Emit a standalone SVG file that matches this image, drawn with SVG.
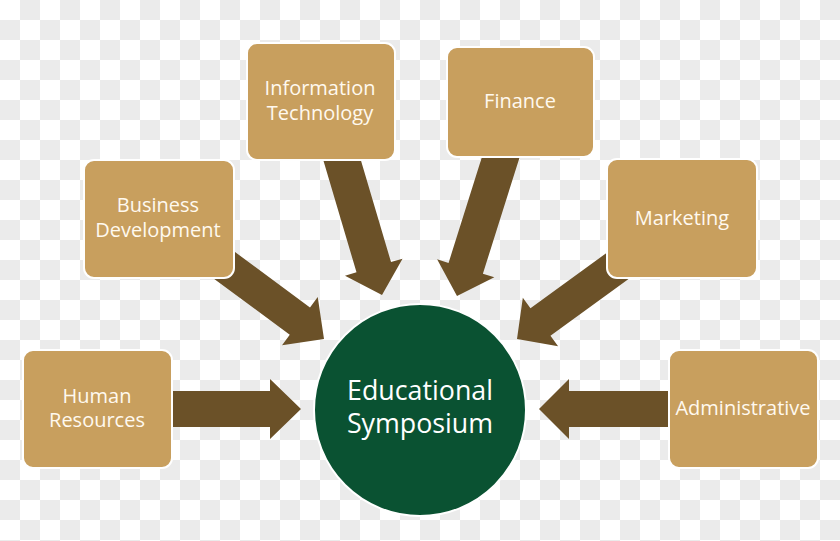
<svg xmlns="http://www.w3.org/2000/svg" width="840" height="541" viewBox="0 0 840 541">
<style>
.box{fill:#C89F5E;stroke:#FFFFFF;stroke-width:2}
.lbl{font-family:"Open Sans","Noto Sans",sans-serif;font-size:20px;fill:#FFF9EF;text-anchor:middle}
.big{font-family:"Open Sans","Noto Sans",sans-serif;font-size:26.8px;fill:#FFFFFF;text-anchor:middle}
.arr{fill:#6B5128}
</style>
<defs>
<pattern id="chk" x="0" y="0" width="40" height="40" patternUnits="userSpaceOnUse">
<rect width="40" height="40" fill="#FFFFFF"/>
<rect x="20" y="0" width="20" height="20" fill="#EBEBEB"/>
<rect x="0" y="20" width="20" height="20" fill="#EBEBEB"/>
</pattern>
</defs>
<rect width="840" height="541" fill="url(#chk)"/>
<g id="connectors">
<polygon class="arr" transform="translate(301,409)" points="0,0 -31,-30 -31,-18 -136,-18 -136,18 -31,18 -31,30"/>
<polygon class="arr" transform="translate(539,409) rotate(180)" points="0,0 -30,-30 -30,-18 -141,-18 -141,18 -30,18 -30,30"/>
<polygon class="arr" transform="translate(324,339) rotate(36.5)" points="0,0 -30,-30 -30,-17 -140,-17 -140,17 -30,17 -30,30"/>
<polygon class="arr" transform="translate(382,295) rotate(73.5)" points="0,0 -29,-30 -29,-18 -150,-18 -150,18 -29,18 -29,30"/>
<polygon class="arr" transform="translate(457,296) rotate(107.5)" points="0,0 -29,-30 -29,-18 -152,-18 -152,18 -29,18 -29,30"/>
<polygon class="arr" transform="translate(517,339) rotate(144)" points="0,0 -29,-30 -29,-17 -140,-17 -140,17 -29,17 -29,30"/>
</g>
<g id="hr">
<rect class="box" x="23" y="350" width="149" height="118" rx="10"/>
<text class="lbl" x="97" y="403">Human</text>
<text class="lbl" x="97" y="427">Resources</text>
</g>
<g id="bd">
<rect class="box" x="84" y="160" width="150" height="118" rx="10"/>
<text class="lbl" x="158" y="212">Business</text>
<text class="lbl" x="158" y="237">Development</text>
</g>
<g id="it">
<rect class="box" x="247" y="43" width="148" height="117" rx="10"/>
<text class="lbl" x="320" y="95">Information</text>
<text class="lbl" x="320" y="120">Technology</text>
</g>
<g id="fin">
<rect class="box" x="447" y="47" width="147" height="110" rx="10"/>
<text class="lbl" x="520" y="108">Finance</text>
</g>
<g id="mkt">
<rect class="box" x="607" y="159" width="150" height="119" rx="10"/>
<text class="lbl" x="682" y="225">Marketing</text>
</g>
<g id="admin">
<rect class="box" x="669" y="350" width="149" height="118" rx="10"/>
<text class="lbl" x="743" y="415">Administrative</text>
</g>
<g id="center">
<circle cx="420" cy="410" r="106" fill="#0A5232" stroke="#FFFFFF" stroke-width="2"/>
<text class="big" x="420" y="400">Educational</text>
<text class="big" x="420" y="433">Symposium</text>
</g>
</svg>
